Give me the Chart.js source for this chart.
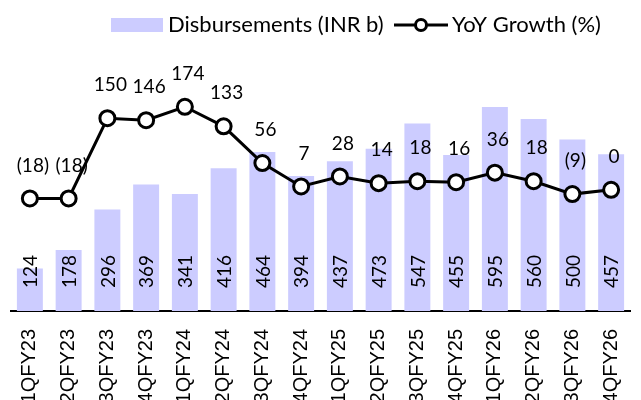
<!DOCTYPE html>
<html>
<head>
<meta charset="utf-8">
<script src="https://cdn.jsdelivr.net/npm/chart.js@4.4.1/dist/chart.umd.min.js"></script>
<style>
  html, body { margin: 0; padding: 0; background: #fff; }
  #wrap { position: relative; width: 641px; height: 400px; }
</style>
</head>
<body>
<div id="wrap"><canvas id="chart-disb" width="641" height="400"></canvas></div>
<script>
/* disbursement trend: quarterly bars + YoY growth line */

const QUARTERS = ["1QFY23", "2QFY23", "3QFY23", "4QFY23", "1QFY24", "2QFY24", "3QFY24", "4QFY24",
  "1QFY25", "2QFY25", "3QFY25", "4QFY25", "1QFY26", "2QFY26", "3QFY26", "4QFY26"];
const DISBURSEMENTS = [124, 178, 296, 369, 341, 416, 464, 394, 437, 473, 547, 455, 595, 560, 500, 457];
const YOY_GROWTH = [-18, -18, 150, 146, 174, 133, 56, 7, 28, 14, 18, 16, 36, 18, -9, 0];

const BAR_COLOR = "#CCCCFF";
const LABEL_FONT = "19px Lato, Carlito, sans-serif";
const LEGEND_FONT = "22px Lato, Carlito, sans-serif";

const fmtPct = (v) => (v < 0 ? `(${Math.abs(v)})` : `${v}`);

// value inside each bar, rotated, sitting near the base
const barLabels = {
  id: "barLabels",
  afterDatasetsDraw(chart) {
    const { ctx, chartArea } = chart;
    const meta = chart.getDatasetMeta(0);
    ctx.save();
    ctx.font = LABEL_FONT;
    ctx.fillStyle = "#000";
    ctx.textAlign = "left";
    ctx.textBaseline = "middle";
    meta.data.forEach((bar, i) => {
      ctx.save();
      ctx.translate(bar.x, chartArea.bottom - 23);
      ctx.rotate(-Math.PI / 2);
      ctx.fillText(String(DISBURSEMENTS[i]), 0, 1);
      ctx.restore();
    });
    ctx.restore();
  },
};

// growth figure above each point
const pointLabels = {
  id: "pointLabels",
  afterDatasetsDraw(chart) {
    const { ctx } = chart;
    const meta = chart.getDatasetMeta(1);
    ctx.save();
    ctx.font = LABEL_FONT;
    ctx.fillStyle = "#000";
    ctx.textAlign = "center";
    ctx.textBaseline = "middle";
    meta.data.forEach((pt, i) => ctx.fillText(fmtPct(YOY_GROWTH[i]), pt.x + 3, pt.y - 33));
    ctx.restore();
  },
};

// legend row at the top right (bar swatch + line-with-marker)
const topLegend = {
  id: "topLegend",
  afterDraw(chart) {
    const { ctx } = chart;
    const [bars, line] = chart.data.datasets;
    ctx.save();
    ctx.font = LEGEND_FONT;
    ctx.textBaseline = "middle";
    ctx.textAlign = "left";
    ctx.fillStyle = bars.backgroundColor;
    ctx.fillRect(111, 18, 52, 14);
    ctx.fillStyle = "#000";
    ctx.fillText(bars.label, 168, 25);

    ctx.strokeStyle = line.borderColor;
    ctx.lineWidth = 3;
    ctx.beginPath();
    ctx.moveTo(394, 25);
    ctx.lineTo(448, 25);
    ctx.stroke();
    ctx.beginPath();
    ctx.arc(421, 25, 5.5, 0, Math.PI * 2);
    ctx.fillStyle = "#fff";
    ctx.fill();
    ctx.stroke();
    ctx.fillStyle = "#000";
    ctx.fillText(line.label, 452, 25);
    ctx.restore();
  },
};

new Chart(document.getElementById("chart-disb"), {
  data: {
    labels: QUARTERS,
    datasets: [
      {
        type: "bar", label: "Disbursements (INR b)", data: DISBURSEMENTS, yAxisID: "y",
        backgroundColor: BAR_COLOR, barPercentage: 0.67, categoryPercentage: 1, order: 1,
      },
      {
        type: "line", label: "YoY Growth (%)", data: YOY_GROWTH, yAxisID: "y2",
        borderColor: "#000", borderWidth: 3, pointRadius: 7.5, pointBackgroundColor: "#fff",
        pointBorderColor: "#000", pointBorderWidth: 3, tension: 0, order: 0,
      },
    ],
  },
  options: {
    responsive: false, animation: false, devicePixelRatio: 1,
    layout: { padding: { top: 71, left: 6, right: 0, bottom: 0 } },
    plugins: { legend: { display: false }, tooltip: { enabled: false } },
    scales: {
      x: {
        grid: { display: false, drawTicks: false },
        border: { display: true, color: "#000", width: 2 },
        ticks: {
          autoSkip: false, maxRotation: 90, minRotation: 90, padding: 18, color: "#000",
          font: { family: "'Liberation Sans', Arial, sans-serif", size: 20 },
        },
        afterFit: (s) => { s.height = 89; s.paddingLeft = 0; s.paddingRight = 0; },
      },
      y: { display: false, min: 0, max: 700 },
      y2: { display: false, min: -254, max: 249, position: "right" },
    },
  },
  plugins: [barLabels, pointLabels, topLegend],
});
</script>
</body>
</html>
